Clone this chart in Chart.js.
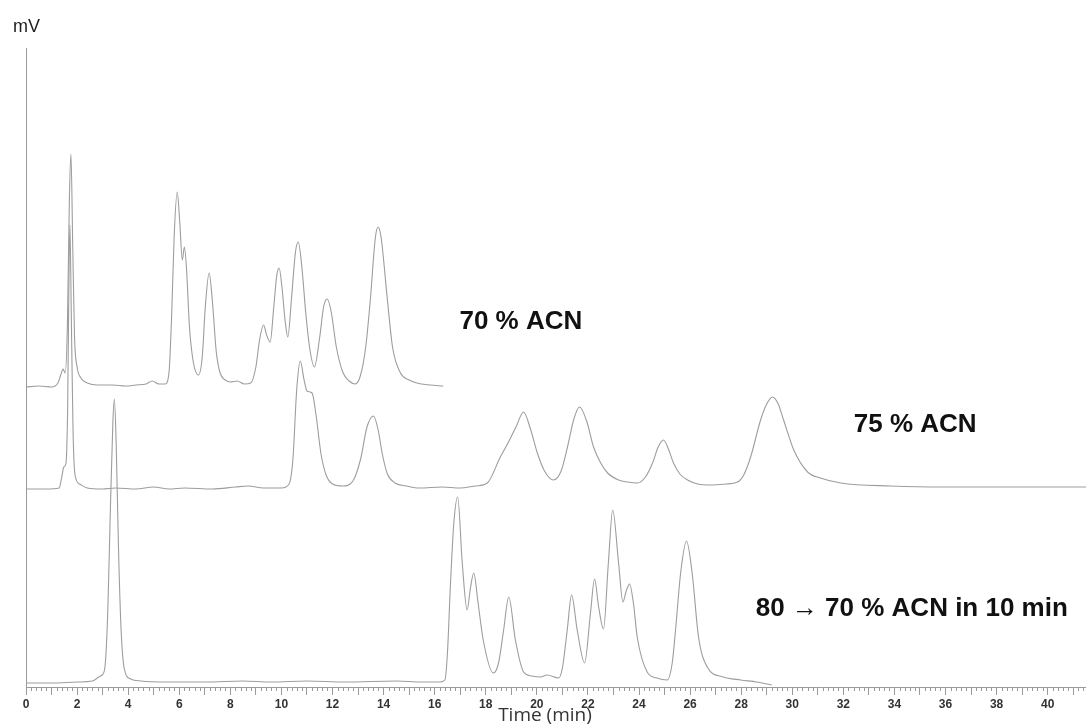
<!DOCTYPE html>
<html>
<head>
<meta charset="utf-8">
<title>Chromatograms – ACN conditions</title>
<script src="https://cdn.jsdelivr.net/npm/chart.js@4.4.1/dist/chart.umd.min.js"></script>
<style>
  html, body { margin: 0; padding: 0; background: #fff; }
  #wrap { width: 1086px; height: 724px; }
</style>
</head>
<body>
<div id="wrap"><canvas id="chrom" width="1086" height="724"></canvas></div>
<script>
// Retention time (min) and detector signal (mV above each trace's own baseline)

// 70 % ACN, isocratic
const t70 = [0, 0.5, 1.0, 1.25, 1.36, 1.45, 1.53, 1.62, 1.7, 1.76,
  1.83, 1.9, 2.0, 2.15, 2.4, 2.8, 3.4, 3.9, 4.3, 4.7,
  4.94, 5.2, 5.45, 5.6, 5.7, 5.8, 5.92, 6.02, 6.12, 6.2,
  6.28, 6.4, 6.55, 6.75, 6.9, 7.02, 7.17, 7.3, 7.45, 7.6,
  7.8, 8.0, 8.27, 8.55, 8.8, 9.0, 9.15, 9.3, 9.42, 9.56,
  9.7, 9.82, 9.91, 10.02, 10.15, 10.25, 10.4, 10.55, 10.66, 10.8,
  10.95, 11.1, 11.29, 11.5, 11.65, 11.79, 11.95, 12.15, 12.4, 12.65,
  12.89, 13.1, 13.3, 13.48, 13.68, 13.79, 13.9, 14.15, 14.35, 14.66,
  15.0, 15.3, 15.8, 16.34];
const mv70 = [0, 1, 0, 4, 12, 18, 14, 60, 190, 233,
  140, 50, 20, 9, 4, 2, 2, 1, 2, 3,
  6, 3, 3, 15, 70, 150, 195, 165, 127, 140,
  120, 60, 25, 12, 30, 80, 114, 85, 35, 14,
  7, 5, 6, 3, 4, 20, 48, 62, 52, 45,
  80, 112, 119, 100, 65, 50, 90, 135, 145, 120,
  75, 40, 20, 50, 80, 88, 75, 40, 15, 6,
  3, 12, 40, 87, 150, 160, 150, 87, 40, 14,
  7, 4, 2, 1];

// 75 % ACN, isocratic
const t75 = [0, 0.8, 1.3, 1.4, 1.48, 1.56, 1.63, 1.69, 1.72, 1.77,
  1.84, 1.92, 2.1, 2.4, 3.0, 3.5, 4.3, 5.0, 5.6, 6.2,
  7.3, 8.2, 8.7, 9.3, 10.0, 10.3, 10.45, 10.6, 10.74, 10.88,
  11.0, 11.2, 11.35, 11.55, 11.75, 12.0, 12.4, 12.8, 13.1, 13.35,
  13.6, 13.78, 13.95, 14.15, 14.45, 14.9, 15.4, 16.3, 17.0, 17.6,
  18.06, 18.57, 18.89, 19.2, 19.48, 19.75, 20.02, 20.3, 20.65, 20.95,
  21.2, 21.45, 21.67, 21.95, 22.22, 22.5, 22.77, 23.2, 23.55, 23.94,
  24.25, 24.53, 24.75, 24.96, 25.15, 25.35, 25.6, 25.9, 26.3, 26.8,
  27.4, 27.86, 28.1, 28.37, 28.76, 29.0, 29.23, 29.45, 29.66, 30.06,
  30.6, 31.1, 31.9, 33.86, 36, 38, 41.5];
const mv75 = [0, 0, 1, 12, 22, 25, 80, 230, 264, 180,
  60, 14, 5, 1, 0, 1, 0, 2, 0, 1,
  0, 2, 3, 1, 1, 5, 30, 100, 128, 110,
  98, 96, 75, 35, 14, 5, 3, 8, 30, 62,
  73, 60, 35, 15, 6, 3, 1, 2, 1, 3,
  6, 32, 47, 63, 77, 60, 36, 18, 9, 18,
  42, 70, 82, 68, 42, 26, 16, 9, 7, 6,
  12, 26, 42, 49, 40, 26, 15, 9, 5, 4,
  5, 7, 14, 32, 69, 85, 92, 85, 69, 39,
  17, 11, 6, 3, 2, 2, 2];

// 80 -> 70 % ACN gradient over 10 min
const tGrad = [0, 1, 2, 2.6, 2.85, 2.97, 3.08, 3.2, 3.3, 3.4,
  3.46, 3.53, 3.62, 3.72, 3.85, 4.1, 4.5, 5.5, 7, 8.5,
  9.6, 11, 12.5, 14.5, 15.5, 16.2, 16.4, 16.5, 16.62, 16.75,
  16.9, 17.08, 17.27, 17.4, 17.53, 17.7, 17.9, 18.3, 18.5, 18.7,
  18.9, 19.16, 19.48, 19.8, 20.14, 20.4, 20.85, 21.0, 21.19, 21.36,
  21.58, 21.87, 22.1, 22.26, 22.42, 22.61, 22.8, 22.97, 23.2, 23.37,
  23.5, 23.63, 23.78, 23.93, 24.32, 24.7, 25.1, 25.3, 25.43, 25.63,
  25.86, 26.08, 26.33, 26.67, 27.3, 27.98, 28.6, 29.2];
const mvGrad = [0, 0, 1, 2, 6, 8, 14, 70, 170, 260,
  284, 240, 136, 55, 14, 4, 2, 1, 1, 2,
  1, 2, 1, 2, 1, 1, 3, 30, 100, 160,
  186, 120, 73, 95, 110, 80, 43, 10, 20, 53,
  86, 43, 11, 7, 6, 8, 5, 15, 53, 88,
  53, 20, 70, 104, 76, 54, 120, 173, 120, 81,
  92, 99, 80, 46, 11, 5, 3, 20, 53, 110,
  142, 110, 46, 16, 6, 3, 1, -2];

// Trace names and the baseline each trace is stacked on (mV)
const traceNames = ['70 % ACN', '75 % ACN', '80 → 70 % ACN in 10 min'];
const stackOffsets = [300, 198, 4];

// Text beside each trace, anchored in axis units (min, mV)
const traceLabelAt = [
  { x: 16.97, y: 365 },
  { x: 32.41, y: 262 },
  { x: 28.57, y: 78 }
];

const X_MAX = 41.5;
const Y_MAX = 639;

const toPoints = (ts, vs, off) => ts.map((t, i) => ({ x: t, y: vs[i] + off }));

const series = [[t70, mv70], [t75, mv75], [tGrad, mvGrad]];
const lineColor = '#9d9d9d';

const datasets = series.map(([ts, vs], i) => ({
  label: traceNames[i],
  data: toPoints(ts, vs, stackOffsets[i]),
  borderColor: lineColor,
  borderWidth: 1.1,
  pointRadius: 0,
  fill: false,
  cubicInterpolationMode: 'monotone'
}));

// Fine 0.2-min ticks under the time axis
const minorTicks = {
  id: 'minorTicks',
  afterDraw(chart) {
    const xs = chart.scales.x;
    const ctx = chart.ctx;
    const y0 = chart.chartArea.bottom;
    ctx.save();
    ctx.strokeStyle = '#9a9a9a';
    ctx.lineWidth = 1;
    ctx.beginPath();
    for (let i = 0; i <= X_MAX * 5; i++) {
      if (i % 5 === 0) continue;
      const px = Math.round(xs.getPixelForValue(i / 5)) + 0.5;
      ctx.moveTo(px, y0);
      ctx.lineTo(px, y0 + 4);
    }
    ctx.stroke();
    ctx.restore();
  }
};

// Axis captions and trace labels
const captions = {
  id: 'captions',
  afterDraw(chart) {
    const { ctx, chartArea, scales } = chart;
    ctx.save();
    ctx.fillStyle = '#222';
    ctx.textBaseline = 'middle';
    ctx.textAlign = 'left';
    ctx.font = '18px "Liberation Sans", Arial, sans-serif';
    ctx.fillText('mV', chartArea.left - 13, chartArea.top - 21);

    ctx.textAlign = 'center';
    ctx.fillStyle = '#333';
    ctx.font = '19px "Open Sans", "Liberation Sans", sans-serif';
    ctx.fillText('Time (min)', (chartArea.left + chartArea.right) / 2 - 11, chartArea.bottom + 29);

    ctx.textAlign = 'left';
    ctx.fillStyle = '#111';
    ctx.font = 'bold 26px "Liberation Sans", "DejaVu Sans", Arial, sans-serif';
    traceNames.forEach((name, i) => {
      const p = traceLabelAt[i];
      ctx.fillText(name, scales.x.getPixelForValue(p.x), scales.y.getPixelForValue(p.y));
    });
    ctx.restore();
  }
};

new Chart(document.getElementById('chrom'), {
  type: 'line',
  data: { datasets },
  options: {
    responsive: false,
    animation: false,
    events: [],
    layout: { padding: { left: 26, top: 48, right: 0, bottom: 0 } },
    plugins: {
      legend: { display: false },
      tooltip: { enabled: false },
      title: { display: false }
    },
    scales: {
      x: {
        type: 'linear',
        min: 0,
        max: X_MAX,
        afterFit(scale) { scale.height = 37; },
        grid: {
          display: true,
          drawOnChartArea: false,
          drawTicks: true,
          tickLength: 8,
          color: '#9a9a9a'
        },
        border: { display: true, color: '#9a9a9a', width: 1 },
        ticks: {
          stepSize: 1,
          includeBounds: false,
          autoSkip: false,
          maxRotation: 0,
          minRotation: 0,
          padding: 2,
          color: '#333',
          font: { family: '"Liberation Sans", Arial, sans-serif', size: 12, weight: 'bold' },
          callback: (v) => (Number.isInteger(v) && v % 2 === 0 ? String(v) : '')
        }
      },
      y: {
        type: 'linear',
        min: 0,
        max: Y_MAX,
        afterFit(scale) { scale.width = 0; },
        grid: { display: false, drawTicks: false },
        border: { display: true, color: '#9a9a9a', width: 1 },
        ticks: { display: false }
      }
    }
  },
  plugins: [minorTicks, captions]
});
</script>
</body>
</html>
